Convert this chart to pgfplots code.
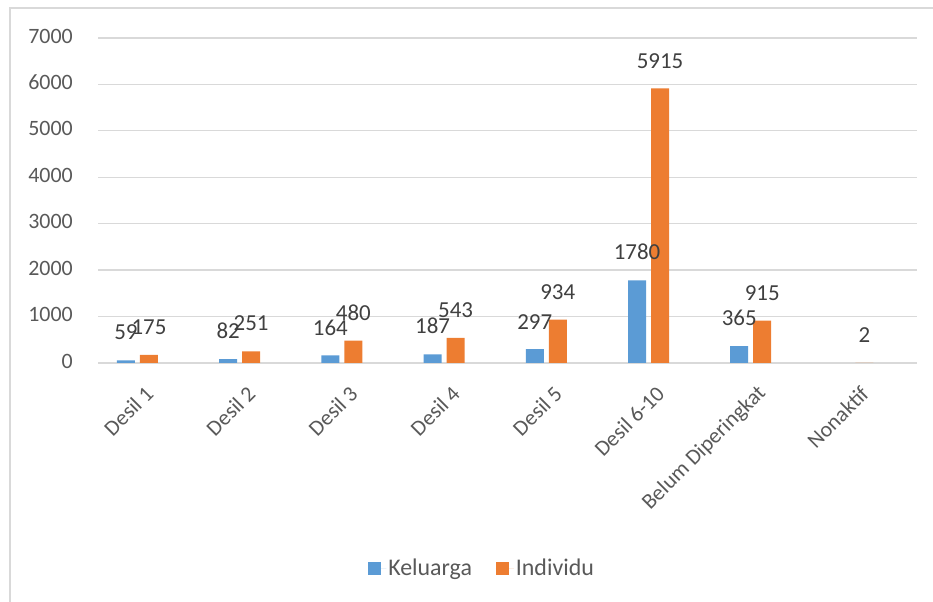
\documentclass[border=0pt]{standalone}
\usepackage{pgfplots}
\pgfplotsset{compat=1.18}
\usepackage{fontspec}
\setmainfont{Carlito}
\definecolor{kblue}{HTML}{5B9BD5}
\definecolor{korange}{HTML}{ED7D31}
\definecolor{gridc}{HTML}{D9D9D9}
\definecolor{tickc}{HTML}{595959}
\definecolor{labc}{HTML}{404040}
\begin{document}
\begin{tikzpicture}[x=1bp,y=1bp]
\useasboundingbox (0,0) rectangle (933,602);
\draw[gridc, line width=1.5bp] (10,0) -- (10,594) -- (933,594);
\begin{axis}[
  at={(98bp,239bp)}, anchor=south west,
  scale only axis, width=819bp, height=325bp,
  xmin=-0.386, xmax=7.627, ymin=0, ymax=7000,
  ybar=5bp, bar width=18bp,
  xtick={0,...,7},
  xticklabels={Desil 1,Desil 2,Desil 3,Desil 4,Desil 5,Desil 6-10,Belum Diperingkat,Nonaktif},
  ytick={0,1000,...,7000},
  ymajorgrids, grid style={gridc, line width=1.3bp},
  axis line style={draw=none},
  major tick length=0pt,
  clip=false,
  /pgf/number format/.cd, 1000 sep={}, assume math mode=true, /pgfplots/.cd,
  tick label style={font=\fontsize{22}{26}\selectfont, text=tickc},
  yticklabel style={inner sep=0pt, anchor=east, xshift=-25bp, yshift=2bp},
  xticklabel style={inner sep=0pt, xshift=12bp, yshift=-27bp, rotate=45, anchor=east},
  nodes near coords,
  nodes near coords style={font=\fontsize{23}{27}\selectfont, text=labc, inner sep=0pt, anchor=south, yshift=20bp},
  legend style={at={(0.469,-0.631)}, anchor=center, draw=none, legend columns=2,
    font=\fontsize{24}{28}\selectfont, text=tickc,
    /tikz/every even column/.append style={column sep=22bp}},
  legend image code/.code={\fill[#1,/tikz/.cd] (0bp,-6.5bp) rectangle (13bp,6.5bp); \path (0bp,0bp) -- (18bp,0bp);},
]
\addplot[fill=kblue, draw=none] coordinates {(0,59) (1,82) (2,164) (3,187) (4,297) (5,1780) (6,365)};
\addplot[fill=korange, draw=none] coordinates {(0,175) (1,251) (2,480) (3,543) (4,934) (5,5915) (6,915) (7,2)};
\legend{Keluarga, Individu}
\end{axis}
\end{tikzpicture}
\end{document}
